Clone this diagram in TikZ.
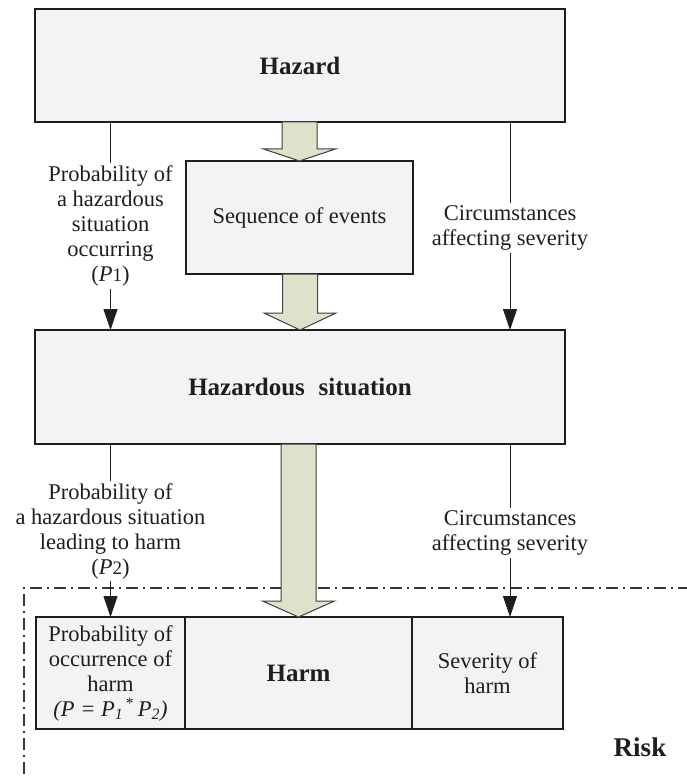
\documentclass[tikz,border=0pt]{standalone}
\usepackage{fontspec}
\setmainfont{Liberation Serif}
\usetikzlibrary{arrows.meta,calc}
\definecolor{boxfill}{HTML}{F2F3F5}
\definecolor{arrfill}{HTML}{DDE2CB}
\definecolor{ink}{HTML}{1E1E1E}
\tikzset{
  box/.style={draw=ink, line width=1.3pt, fill=boxfill, inner sep=0pt, outer sep=0pt,
    align=center, text=ink, font=\fontsize{22.5}{25}\selectfont},
  boldbox/.style={box, font=\fontsize{25}{28}\selectfont\bfseries},
  lbl/.style={align=center, inner sep=2pt, text=ink, font=\fontsize{22.5}{25}\selectfont},
  conn/.style={draw=ink, line width=0.9pt},
  arr/.style={conn, -{Triangle[length=21pt,width=14pt]}},
  blockarrow/.style={draw=ink!85, line width=1pt, fill=arrfill, line join=miter},
  riskline/.style={draw=ink!90, line width=1.1pt, dash pattern=on 12pt off 5pt on 2pt off 5pt},
}
\newcommand\blockarr[3]{%
  \filldraw[blockarrow] let \p1=(#1), \p2=(#2) in
    (\x2-17.5pt,\y1) -- (\x2-17.5pt,\y2+#3) -- (\x2-36pt,\y2+#3) -- (\x2,\y2)
    -- (\x2+36pt,\y2+#3) -- (\x2+17.5pt,\y2+#3) -- (\x2+17.5pt,\y1) -- cycle;}
\begin{document}
\begin{tikzpicture}[x=1pt,y=-1pt]
\useasboundingbox (0,0) rectangle (686,778);
\coordinate (riskTR) at (690,588);
\coordinate (riskBL) at (24,782);
\draw[riskline] (riskTR) -| (riskBL);

\node[boldbox, minimum width=530, minimum height=113] (hazard) at (300,65.5) {Hazard};
\node[box, minimum width=227, minimum height=113] (seq) at (299.5,217.5) {Sequence of events};
\node[boldbox, minimum width=530, minimum height=114] (hsit) at (300,387) {Hazardous\hspace{0.3em} situation};
\node[box, minimum width=149, minimum height=112] (prob) at (110.5,673)
  {Probability of\\occurrence of\\harm\\\textit{(P = P}\textsubscript{\textit{1}}\textsuperscript{\,*}\,\textit{P}\textsubscript{\textit{2}}\textit{)}};
\node[boldbox, minimum width=227, minimum height=112] (harm) at (298.5,673) {Harm};
\node[box, minimum width=151, minimum height=112] (sev) at (487.5,673) {Severity of\\harm};

\blockarr{hazard.south}{seq.north}{12pt}
\blockarr{seq.south}{hsit.north}{17pt}
\blockarr{hsit.south}{harm.north}{16pt}

\node[lbl] (p1) at (110.5,226) {Probability of\\a hazardous\\situation\\occurring\\(\textit{P}{\fontsize{19}{22}\selectfont 1})};
\draw[conn] (hazard.south -| p1) -- (p1.north);
\draw[arr] (p1.south) -- (p1.south |- hsit.north);

\node[lbl] (c1) at (510,228) {Circumstances\\affecting severity};
\draw[conn] (hazard.south -| c1) -- (c1.north);
\draw[arr] (c1.south) -- (c1.south |- hsit.north);

\node[lbl] (p2) at (110.5,531) {Probability of\\a hazardous situation\\leading to harm\\(\textit{P}{\fontsize{19}{22}\selectfont 2})};
\draw[conn] (hsit.south -| p2) -- (p2.north);
\draw[arr] (p2.south) -- (p2.south |- prob.north);

\node[lbl] (c2) at (510,533) {Circumstances\\affecting severity};
\draw[conn] (hsit.south -| c2) -- (c2.north);
\draw[arr] (c2.south) -- (c2.south |- sev.north);

\node[text=ink, font=\fontsize{27}{30}\selectfont\bfseries] (risk) at (640,747) {Risk};
\end{tikzpicture}
\end{document}
